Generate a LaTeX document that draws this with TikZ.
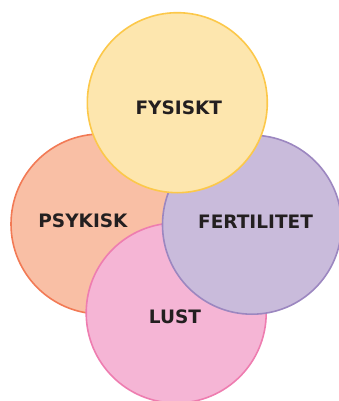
\documentclass[tikz,border=0pt]{standalone}
\usepackage{fontspec}
\setmainfont{DejaVu Sans}
\definecolor{fysfill}{HTML}{FDE6AE}
\definecolor{fysline}{HTML}{FCC84A}
\definecolor{psyfill}{HTML}{F9BFA5}
\definecolor{psyline}{HTML}{F27A55}
\definecolor{ferfill}{HTML}{C9BBDB}
\definecolor{ferline}{HTML}{9C87C0}
\definecolor{lusfill}{HTML}{F5B5D5}
\definecolor{lusline}{HTML}{EE7DB0}
\definecolor{txt}{HTML}{231F20}
\begin{document}
\begin{tikzpicture}[x=1pt,y=-1pt,
  blob/.style={circle,draw,line width=1.6pt,minimum size=180pt,inner sep=0pt},
  lbl/.style={font=\fontsize{18.5}{20}\selectfont\bfseries,text=txt,inner sep=0pt}]
\path[use as bounding box] (0,0) rectangle (339,401);
\node[blob,fill=psyfill,draw=psyline] (psy) at (101,224) {};
\node[blob,fill=lusfill,draw=lusline] (lus) at (176.2,313) {};
\node[blob,fill=ferfill,draw=ferline,minimum size=179pt] (fer) at (252,224.7) {};
\node[blob,fill=fysfill,draw=fysline] (fys) at (177.3,102.7) {};
\node[lbl] (tfys) at (178.8,107.5) {FYSISKT};
\node[lbl] (tpsy) at (83,220.5) {PSYKISK};
\node[lbl] (tfer) at (255.5,221.5) {FERTILITET};
\node[lbl] (tlus) at (175,316.3) {LUST};
\end{tikzpicture}
\end{document}
